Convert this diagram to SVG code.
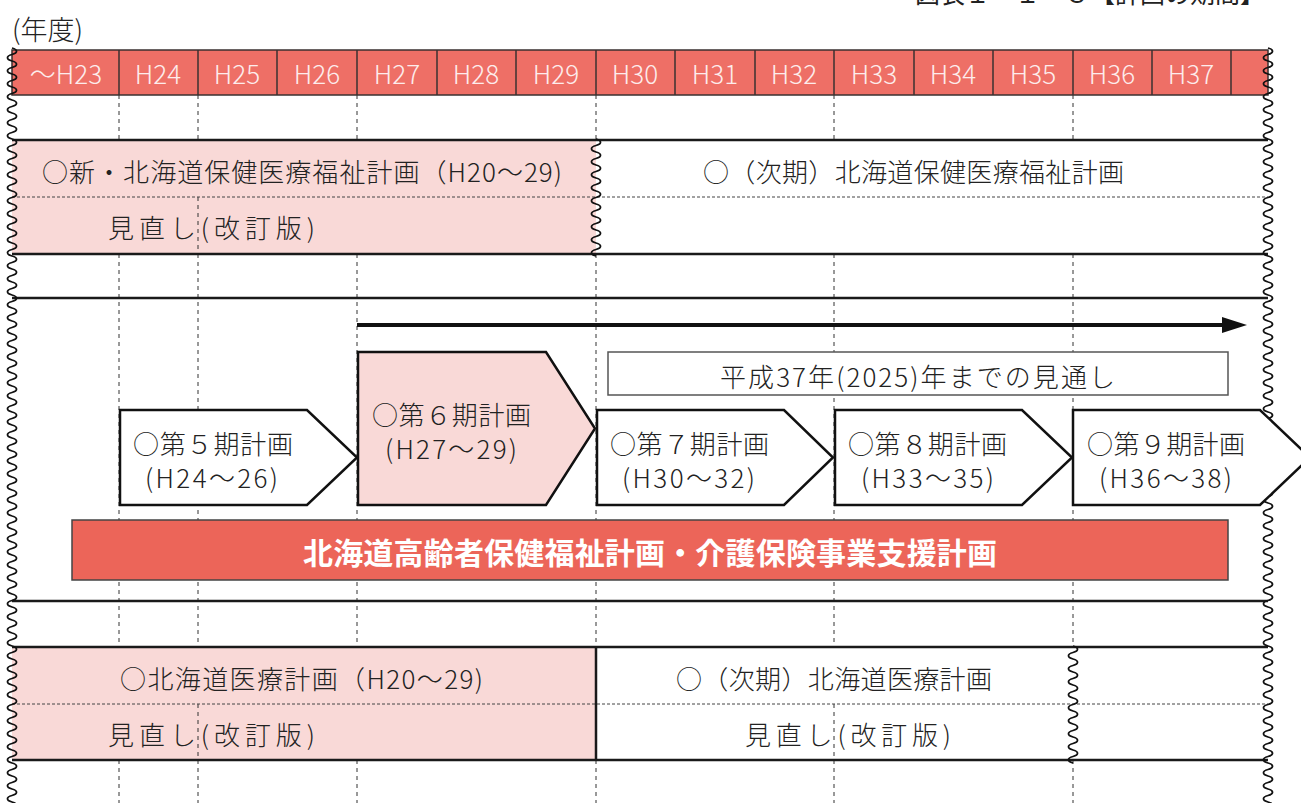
<svg xmlns="http://www.w3.org/2000/svg" width="1301" height="803" viewBox="0 0 1301 803">
<style>
text{font-family:"Noto Sans CJK JP","Noto Sans",sans-serif;font-weight:300;fill:#222;dominant-baseline:central}
.hd{fill:#FDECEC;font-size:26px;text-anchor:middle}
.t{font-size:26px}
.bold{font-weight:700;fill:#fff;font-size:30px}
.thick{stroke:#1a1a1a;stroke-width:2.5}
.dash{stroke:#333;stroke-width:1;stroke-dasharray:4 4}
.dot{stroke:#444;stroke-width:1;stroke-dasharray:3 2}
.pent{stroke:#111;stroke-width:2.5;stroke-linejoin:miter}
.wv{fill:none;stroke:#111;stroke-width:1.8}
</style>
<defs>
<path id="wave" class="wv" d="M0,0 c6,1.6 6,4.9 0,6.5 c-6,1.6 -6,4.9 0,6.5 c6,1.6 6,4.9 0,6.5 c-6,1.6 -6,4.9 0,6.5 c6,1.6 6,4.9 0,6.5 c-6,1.6 -6,4.9 0,6.5 c6,1.6 6,4.9 0,6.5 c-6,1.6 -6,4.9 0,6.5 c6,1.6 6,4.9 0,6.5 c-6,1.6 -6,4.9 0,6.5 c6,1.6 6,4.9 0,6.5 c-6,1.6 -6,4.9 0,6.5 c6,1.6 6,4.9 0,6.5 c-6,1.6 -6,4.9 0,6.5 c6,1.6 6,4.9 0,6.5 c-6,1.6 -6,4.9 0,6.5 c6,1.6 6,4.9 0,6.5 c-6,1.6 -6,4.9 0,6.5"/>
</defs>
<rect width="1301" height="803" fill="#fff"/>

<text x="915" y="-8" style="font-size:25px;font-weight:400" textLength="350" lengthAdjust="spacingAndGlyphs">図表１－１－３【計画の期間】</text>
<text x="12" y="28" style="font-size:27px">(年度)</text>

<g id="header">
<rect x="12" y="50" width="1256" height="45" fill="#EE6F66" stroke="#3a3030" stroke-width="1.5"/>
<g stroke="#3a3030" stroke-width="1.5">
<line x1="119" y1="50" x2="119" y2="95"/><line x1="198" y1="50" x2="198" y2="95"/><line x1="277" y1="50" x2="277" y2="95"/><line x1="357" y1="50" x2="357" y2="95"/><line x1="437" y1="50" x2="437" y2="95"/><line x1="516" y1="50" x2="516" y2="95"/><line x1="596" y1="50" x2="596" y2="95"/><line x1="675" y1="50" x2="675" y2="95"/><line x1="755" y1="50" x2="755" y2="95"/><line x1="834" y1="50" x2="834" y2="95"/><line x1="914" y1="50" x2="914" y2="95"/><line x1="993" y1="50" x2="993" y2="95"/><line x1="1073" y1="50" x2="1073" y2="95"/><line x1="1152" y1="50" x2="1152" y2="95"/><line x1="1231" y1="50" x2="1231" y2="95"/>
</g>
<text class="hd" x="66" y="72">〜H23</text><text class="hd" x="158" y="72">H24</text><text class="hd" x="237" y="72">H25</text><text class="hd" x="317" y="72">H26</text><text class="hd" x="397" y="72">H27</text><text class="hd" x="476" y="72">H28</text><text class="hd" x="556" y="72">H29</text><text class="hd" x="635" y="72">H30</text><text class="hd" x="715" y="72">H31</text><text class="hd" x="794" y="72">H32</text><text class="hd" x="874" y="72">H33</text><text class="hd" x="953" y="72">H34</text><text class="hd" x="1033" y="72">H35</text><text class="hd" x="1112" y="72">H36</text><text class="hd" x="1191" y="72">H37</text>
</g>

<rect x="12" y="141" width="584" height="113" fill="#F9D9D7"/>
<rect x="12" y="648" width="584" height="112" fill="#F9D9D7"/>

<g id="grid">
<g class="dash">
<line x1="119" y1="95" x2="119" y2="140"/><line x1="198" y1="95" x2="198" y2="140"/><line x1="357" y1="95" x2="357" y2="140"/><line x1="596" y1="95" x2="596" y2="140"/><line x1="834" y1="95" x2="834" y2="140"/><line x1="1073" y1="95" x2="1073" y2="140"/>
<line x1="119" y1="254" x2="119" y2="647"/><line x1="198" y1="254" x2="198" y2="647"/><line x1="357" y1="254" x2="357" y2="647"/><line x1="596" y1="254" x2="596" y2="647"/><line x1="834" y1="254" x2="834" y2="647"/><line x1="1073" y1="254" x2="1073" y2="647"/>
<line x1="119" y1="760" x2="119" y2="803"/><line x1="198" y1="760" x2="198" y2="803"/><line x1="357" y1="760" x2="357" y2="803"/><line x1="596" y1="760" x2="596" y2="803"/><line x1="834" y1="760" x2="834" y2="803"/><line x1="1073" y1="760" x2="1073" y2="803"/>
<line x1="198" y1="197" x2="198" y2="254"/><line x1="198" y1="704" x2="198" y2="760"/><line x1="834" y1="704" x2="834" y2="760"/>
</g>
<g class="dot">
<line x1="12" y1="197" x2="1268" y2="197"/><line x1="12" y1="704" x2="1268" y2="704"/>
</g>
<g class="thick">
<line x1="12" y1="140" x2="1268" y2="140"/><line x1="12" y1="254" x2="1268" y2="254"/><line x1="12" y1="298" x2="1268" y2="298"/><line x1="12" y1="601" x2="1268" y2="601"/><line x1="12" y1="647" x2="1268" y2="647"/><line x1="12" y1="760" x2="1268" y2="760"/>
<line x1="596" y1="647" x2="596" y2="760"/>
</g>
<use href="#wave" x="12" y="48"/><use href="#wave" x="12" y="165"/><use href="#wave" x="12" y="282"/><use href="#wave" x="12" y="399"/><use href="#wave" x="12" y="516"/><use href="#wave" x="12" y="633"/><use href="#wave" x="12" y="750"/>
<use href="#wave" x="1268" y="48"/><use href="#wave" x="1268" y="165"/><use href="#wave" x="1268" y="282"/><use href="#wave" x="1268" y="399"/><use href="#wave" x="1268" y="516"/><use href="#wave" x="1268" y="633"/><use href="#wave" x="1268" y="750"/>
</g>

<g id="plan-health-current">
<use href="#wave" x="596" y="139"/>
<text class="t" x="42" y="170" textLength="520" lengthAdjust="spacing">○新・北海道保健医療福祉計画（H20〜29)</text>
<text class="t" x="108" y="226" textLength="207" lengthAdjust="spacing">見直し(改訂版)</text>
</g>
<g id="plan-health-next">
<text class="t" x="703" y="170" textLength="421" lengthAdjust="spacing">○（次期）北海道保健医療福祉計画</text>
</g>

<g id="connectors">
<line x1="357" y1="325" x2="1224" y2="325" stroke="#111" stroke-width="4"/>
<polygon points="1222,317 1247,325 1222,333" fill="#111"/>
</g>
<g id="outlook">
<rect x="608" y="352" width="620" height="43" fill="#fff" stroke="#555" stroke-width="1.5"/>
<text class="t" x="720" y="375" textLength="395" lengthAdjust="spacing">平成37年(2025)年までの見通し</text>
</g>
<g id="plan5">
<polygon class="pent" points="120,410 307,410 357,457.5 307,505 120,505" fill="#fff"/>
<text class="t" x="133" y="442" textLength="160" lengthAdjust="spacing">○第５期計画</text>
<text class="t" x="145" y="476" textLength="133" lengthAdjust="spacing">(H24〜26)</text>
</g>
<g id="plan6">
<polygon class="pent" points="358,352 546,352 595,428.5 546,505 358,505" fill="#F9D9D7"/>
<text class="t" x="372" y="413" textLength="159" lengthAdjust="spacing">○第６期計画</text>
<text class="t" x="385" y="447" textLength="132" lengthAdjust="spacing">(H27〜29)</text>
</g>
<g id="plan7">
<polygon class="pent" points="597,410 784,410 833,457.5 784,505 597,505" fill="#fff"/>
<text class="t" x="610" y="442" textLength="159" lengthAdjust="spacing">○第７期計画</text>
<text class="t" x="622" y="476" textLength="133" lengthAdjust="spacing">(H30〜32)</text>
</g>
<g id="plan8">
<polygon class="pent" points="835,410 1022,410 1072,457.5 1022,505 835,505" fill="#fff"/>
<text class="t" x="848" y="442" textLength="159" lengthAdjust="spacing">○第８期計画</text>
<text class="t" x="861" y="476" textLength="133" lengthAdjust="spacing">(H33〜35)</text>
</g>
<g id="plan9">
<polygon class="pent" points="1073,410 1260,410 1310,457.5 1260,505 1073,505" fill="#fff"/>
<text class="t" x="1087" y="442" textLength="158" lengthAdjust="spacing">○第９期計画</text>
<text class="t" x="1099" y="476" textLength="133" lengthAdjust="spacing">(H36〜38)</text>
</g>
<g id="plan-elderly">
<rect x="72" y="520" width="1156" height="60" fill="#EC6559" stroke="#444" stroke-width="1.5"/>
<text class="bold" x="303" y="551" textLength="694" lengthAdjust="spacing">北海道高齢者保健福祉計画・介護保険事業支援計画</text>
</g>

<g id="plan-medical-current">
<text class="t" x="120" y="677" textLength="363" lengthAdjust="spacing">○北海道医療計画（H20〜29)</text>
<text class="t" x="108" y="733" textLength="207" lengthAdjust="spacing">見直し(改訂版)</text>
</g>
<g id="plan-medical-next">
<use href="#wave" x="1073" y="646"/>
<text class="t" x="676" y="677" textLength="316" lengthAdjust="spacing">○（次期）北海道医療計画</text>
<text class="t" x="745" y="733" textLength="206" lengthAdjust="spacing">見直し(改訂版)</text>
</g>
</svg>
